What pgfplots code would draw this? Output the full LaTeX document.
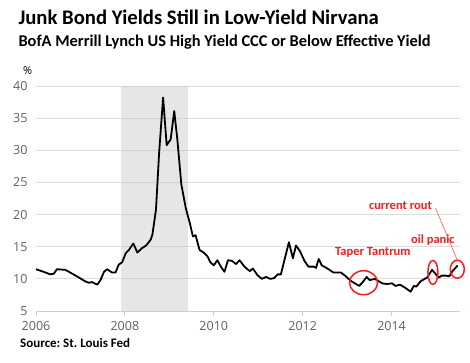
\documentclass[border=0pt]{standalone}
\usepackage{pgfplots}
\pgfplotsset{compat=1.18}
\usepackage{fontspec}
\setmainfont{Carlito}
\newfontfamily\tickfont{Open Sans}
\frenchspacing
\definecolor{gridc}{HTML}{DDDDDD}
\definecolor{gridd}{HTML}{D2D2D2}
\definecolor{axisc}{HTML}{C0D0E0}
\definecolor{tickc}{HTML}{606060}
\definecolor{shade}{HTML}{E6E6E6}
\definecolor{annot}{HTML}{FF1A1A}
\begin{document}
\begin{tikzpicture}
\useasboundingbox (0pt,0pt) rectangle (470pt,362pt);
\node[anchor=base west,inner sep=0pt,font=\bfseries\fontsize{20.7}{23}\selectfont] at (18.3pt,337pt) {Junk Bond Yields Still in Low-Yield Nirvana};
\node[anchor=base west,inner sep=0pt,font=\bfseries\fontsize{16.4}{18}\selectfont] at (18.3pt,315.3pt) {BofA Merrill Lynch US High Yield CCC or Below Effective Yield};
\node[anchor=base west,inner sep=0pt,font=\tickfont\fontsize{11}{13}\selectfont] at (23pt,287pt) {\%};
\node[anchor=base west,inner sep=0pt,font=\bfseries\fontsize{13}{15}\selectfont] at (20pt,14.5pt) {Source: St. Louis Fed};
\begin{axis}[
  at={(36pt,51pt)}, anchor=south west,
  scale only axis, width=424pt, height=225pt,
  xmin=2006, xmax=2015.54, ymin=5, ymax=40,
  xtick={2006,2008,2010,2012,2014},
  ytick={5,10,15,20,25,30,35,40},
  xticklabels={2006,2008,2010,2012,2014},
  ymajorgrids, grid style={gridc, line width=0.8pt},
  axis x line*=bottom, axis y line*=left,
  y axis line style={draw=none},
  x axis line style={axisc, line width=0.8pt, -},
  xtick style={axisc, line width=0.8pt},
  ytick style={draw=none},
  major tick length=5pt,
  tick align=outside,
  xticklabel style={font=\tickfont\fontsize{12.5}{14}\selectfont, text=tickc, yshift=-2pt},
  yticklabel style={font=\tickfont\fontsize{12.5}{14}\selectfont, text=tickc},
  /pgf/number format/assume math mode=true,
  /pgf/number format/1000 sep={},
  clip=false,
]
\addplot[fill=shade, draw=none, forget plot] coordinates {(2007.92,5) (2007.92,40) (2009.42,40) (2009.42,5)} -- cycle;
\foreach \yy in {10,15,20,25,30,35,40} {
  \edef\tmp{\noexpand\draw[gridd, line width=0.8pt] (axis cs:2007.92,\yy) -- (axis cs:2009.42,\yy);}\tmp
}
\addplot[black, line width=1.8pt, line join=round] coordinates {
(2006.00,11.5) (2006.17,11.1) (2006.32,10.7) (2006.40,10.8) (2006.47,11.5)
(2006.66,11.4) (2006.74,11.1) (2006.92,10.4) (2007.11,9.6) (2007.19,9.4)
(2007.26,9.5) (2007.38,9.1) (2007.45,9.8) (2007.53,11.1) (2007.60,11.5)
(2007.71,11.0) (2007.79,11.0) (2007.86,12.2) (2007.94,12.6) (2008.02,14.0)
(2008.09,14.5) (2008.19,15.5) (2008.28,14.1) (2008.39,14.8) (2008.48,15.2)
(2008.58,16.1) (2008.62,16.9) (2008.70,20.8) (2008.77,29.6) (2008.86,38.2)
(2008.94,30.8) (2009.03,31.7) (2009.11,36.1) (2009.18,31.7) (2009.27,24.7)
(2009.37,21.0) (2009.46,18.7) (2009.53,16.6) (2009.59,16.8) (2009.68,14.5)
(2009.77,14.1) (2009.86,13.5) (2009.92,12.6) (2010.00,12.1) (2010.08,12.9)
(2010.16,11.9) (2010.24,11.1) (2010.32,12.9) (2010.41,12.8) (2010.50,12.3)
(2010.58,12.9) (2010.69,11.9) (2010.81,11.2) (2010.88,11.6) (2010.98,10.6)
(2011.08,10.0) (2011.18,10.3) (2011.27,10.0) (2011.35,10.1) (2011.44,10.7)
(2011.51,10.7) (2011.60,13.2) (2011.69,15.7) (2011.78,13.2) (2011.85,15.2)
(2011.94,14.3) (2012.04,12.8) (2012.13,11.9) (2012.25,11.9) (2012.30,11.7)
(2012.36,13.1) (2012.43,12.1) (2012.56,11.6) (2012.69,11.0) (2012.86,11.0)
(2012.97,10.4) (2013.08,9.7) (2013.27,8.9) (2013.34,9.4) (2013.44,10.3)
(2013.51,9.8) (2013.62,10.0) (2013.72,9.6) (2013.79,9.3) (2013.90,9.2)
(2014.01,9.3) (2014.09,8.9) (2014.19,9.1) (2014.31,8.6) (2014.43,8.0)
(2014.50,8.9) (2014.56,8.8) (2014.65,9.6) (2014.72,9.9) (2014.80,10.2)
(2014.91,11.4) (2015.00,10.7) (2015.06,10.2) (2015.13,10.5) (2015.22,10.5)
(2015.30,10.4) (2015.37,11.2) (2015.49,12.1)
};
\draw[annot, line width=1.5pt] (axis cs:2013.37,9.4) ellipse [x radius=14pt, y radius=12pt];
\draw[annot, line width=1.5pt] (axis cs:2014.93,11.0) ellipse [x radius=5pt, y radius=12pt];
\draw[annot, line width=1.5pt] (axis cs:2015.48,11.5) ellipse [x radius=7pt, y radius=9pt];
\node[annot, font=\bfseries\fontsize{12.5}{14}\selectfont, inner sep=0pt] at (axis cs:2013.58,14.1) {Taper Tantrum};
\node[annot, font=\bfseries\fontsize{12.5}{14}\selectfont, inner sep=0pt] at (axis cs:2014.93,16.1) {oil panic};
\node[annot, font=\bfseries\fontsize{12.5}{14}\selectfont, inner sep=0pt] at (axis cs:2014.20,21.4) {current rout};
\draw[annot, line width=0.4pt] (axis cs:2014.99,21.0) -- (axis cs:2015.48,12.9);
\end{axis}
\end{tikzpicture}
\end{document}
